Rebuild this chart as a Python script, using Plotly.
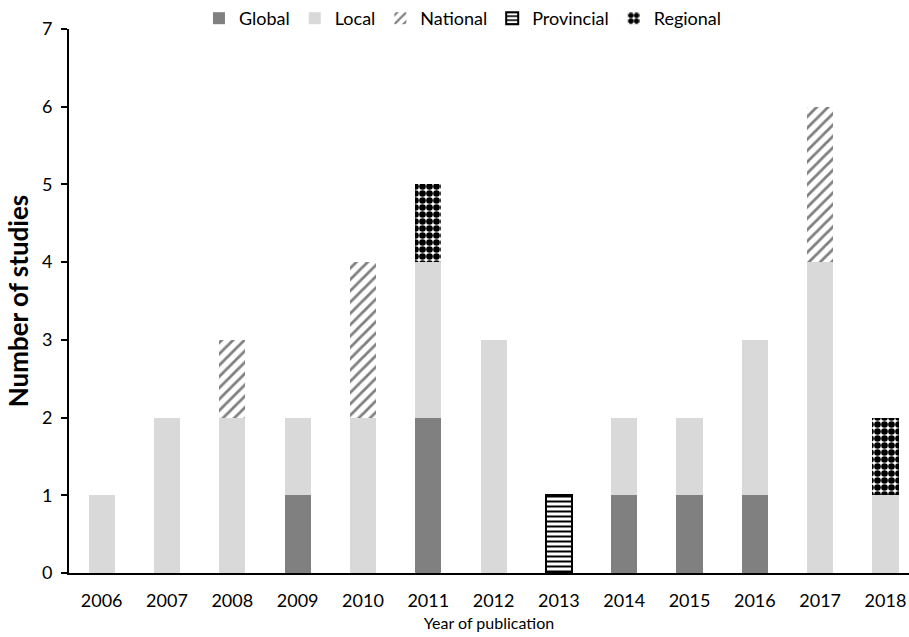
import plotly.graph_objects as go

years = ["2006", "2007", "2008", "2009", "2010", "2011", "2012",
         "2013", "2014", "2015", "2016", "2017", "2018"]
global_ = [0, 0, 0, 1, 0, 2, 0, 0, 1, 1, 1, 0, 0]
local = [1, 2, 2, 1, 2, 2, 3, 0, 1, 1, 2, 4, 1]
national = [0, 0, 1, 0, 2, 0, 0, 0, 0, 0, 0, 2, 0]
provincial = [0, 0, 0, 0, 0, 0, 0, 1, 0, 0, 0, 0, 0]
regional = [0, 0, 0, 0, 0, 1, 0, 0, 0, 0, 0, 0, 1]


def nz(vals):
    return [v if v else None for v in vals]


FONT = "Lato"
W = 0.40

fig = go.Figure()
fig.add_bar(x=years, y=nz(global_), name="Global", width=W,
            marker=dict(color="#808080", line=dict(width=0)))
fig.add_bar(x=years, y=nz(local), name="Local", width=W,
            marker=dict(color="#d9d9d9", line=dict(width=0)))
fig.add_bar(x=years, y=nz(national), name="National", width=W,
            marker=dict(color="white", line=dict(width=0),
                        pattern=dict(shape="/", fgcolor="#808080", bgcolor="white",
                                     size=8, solidity=0.35, fillmode="replace")))
fig.add_bar(x=years, y=nz(provincial), name="Provincial", width=W,
            marker=dict(color="white", line=dict(width=2, color="black"),
                        pattern=dict(shape="-", fgcolor="black", bgcolor="white",
                                     size=5, solidity=0.4, fillmode="replace")))
fig.add_bar(x=years, y=nz(regional), name="Regional", width=W,
            marker=dict(color="white", line=dict(width=0),
                        pattern=dict(shape=".", fgcolor="black", bgcolor="white",
                                     size=7, solidity=0.7, fillmode="replace")))

fig.update_layout(
    barmode="stack",
    width=909, height=637,
    margin=dict(l=69, r=0, t=29, b=64),
    plot_bgcolor="white", paper_bgcolor="white",
    font=dict(family=FONT, size=16, color="black"),
    legend=dict(orientation="h", x=0.469, xanchor="center", y=1.02, yanchor="middle",
                font=dict(size=18), itemwidth=30, traceorder="normal",
                bgcolor="rgba(0,0,0,0)"),
    xaxis=dict(range=[-0.5, 12.36], showline=True, linecolor="black", linewidth=2,
               ticks="", showgrid=False, tickfont=dict(size=18), ticklabelstandoff=10,
               title=dict(text="Year of publication", font=dict(size=16), standoff=8)),
    yaxis=dict(range=[0, 7], dtick=1, showline=True, linecolor="black", linewidth=2,
               ticks="outside", ticklen=6, tickwidth=2, tickcolor="black",
               showgrid=False, zeroline=False, tickfont=dict(size=18), ticklabelstandoff=5,
               title=dict(text="<b>Number of studies</b>", font=dict(size=26), standoff=6)),
)

fig.write_html("out.html")
